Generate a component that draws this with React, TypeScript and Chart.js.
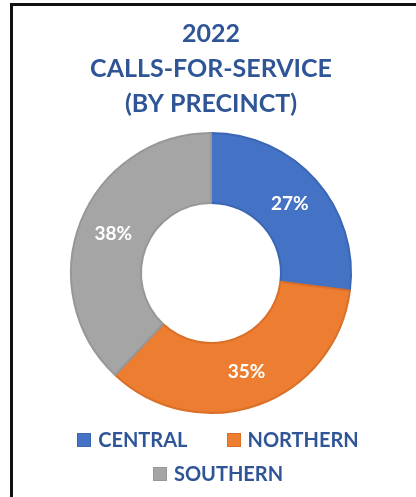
import React, { useEffect, useRef } from "react";
import { Chart, registerables } from "chart.js";

Chart.register(...registerables);

const titleLines = ["2022", "CALLS-FOR-SERVICE", "(BY PRECINCT)"];
const categories = ["CENTRAL", "NORTHERN", "SOUTHERN"];
const shares = [27, 35, 38];
const fillColors = ["#4472C4", "#ED7D31", "#A5A5A5"];
const edgeColors = ["#3B66B5", "#DA6F27", "#979797"];
const textBlue = "#2F5597";
const fontFamily = "Lato, 'Open Sans', sans-serif";

const labelPlugin = {
  id: "sliceLabels",
  afterDatasetsDraw(chart: any) {
    const ctx = chart.ctx;
    const meta = chart.getDatasetMeta(0);
    const values = chart.data.datasets[0].data;
    ctx.save();
    ctx.fillStyle = "#ffffff";
    ctx.font = `bold 19px ${fontFamily}`;
    ctx.textAlign = "center";
    ctx.textBaseline = "middle";
    meta.data.forEach((arc: any, i: number) => {
      const p = arc.tooltipPosition();
      ctx.fillText(`${values[i]}%`, p.x, p.y);
    });
    ctx.restore();
  },
};

export default function App() {
  const ref = useRef<HTMLCanvasElement>(null);

  useEffect(() => {
    if (!ref.current) return;
    const chart = new Chart(ref.current, {
      type: "doughnut",
      data: {
        labels: categories,
        datasets: [
          {
            data: shares,
            backgroundColor: fillColors,
            borderColor: edgeColors,
            borderWidth: 2,
            hoverOffset: 0,
          },
        ],
      },
      options: {
        responsive: false,
        animation: false,
        cutout: "50%",
        layout: { padding: { left: 0, right: 7, top: 0, bottom: 83 } },
        plugins: {
          legend: { display: false },
          tooltip: { enabled: false },
          title: {
            display: true,
            text: titleLines,
            color: textBlue,
            font: { family: fontFamily, size: 25, weight: "bold", lineHeight: 1.4 },
            padding: { top: 10, bottom: 11 },
          },
        },
      },
      plugins: [labelPlugin],
    });
    return () => chart.destroy();
  }, []);

  return (
    <div>
      <div
        style={{
          position: "absolute",
          left: 10,
          top: 3,
          width: 406,
          height: 494,
          boxSizing: "border-box",
          borderTop: "3px solid #111",
          borderLeft: "3px solid #111",
          background: "#fff",
        }}
      />
      <canvas
        ref={ref}
        width={403}
        height={491}
        style={{ position: "absolute", left: 13, top: 6, width: 403, height: 491 }}
      />
      <div
        style={{
          position: "absolute",
          left: 68,
          top: 422,
          width: 300,
          display: "flex",
          flexWrap: "wrap",
          justifyContent: "center",
          columnGap: 39,
          fontFamily,
          fontWeight: "bold",
          fontSize: 20,
          color: textBlue,
        }}
      >
        {categories.map((c, i) => (
          <div key={c} style={{ display: "flex", alignItems: "center", height: 34, lineHeight: "34px" }}>
            <span
              style={{
                display: "inline-block",
                width: 14,
                height: 14,
                boxSizing: "border-box",
                background: fillColors[i],
                border: `1px solid ${edgeColors[i]}`,
                marginRight: 7,
                marginTop: 2,
              }}
            />
            <span>{c}</span>
          </div>
        ))}
      </div>
    </div>
  );
}
